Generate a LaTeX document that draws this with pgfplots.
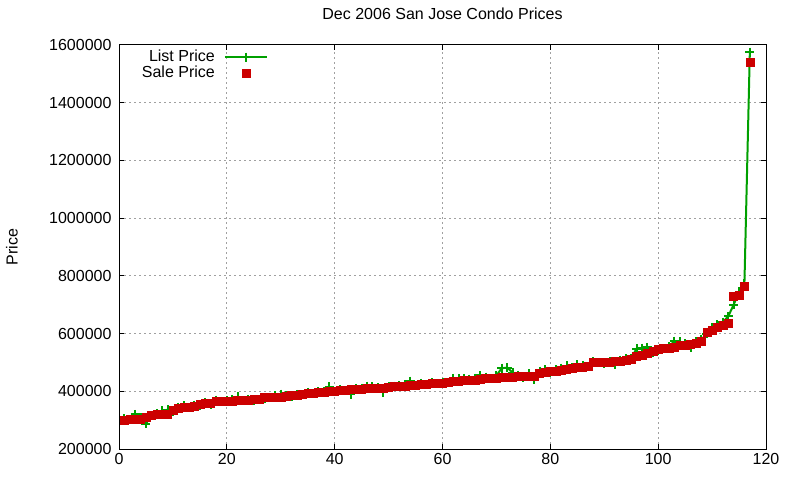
\documentclass[border=0pt]{standalone}
\usepackage{fontspec}
\setmainfont{Liberation Sans}
\usepackage{pgfplots}
\usepackage{pgfplotstable}
\pgfplotsset{compat=1.18}
\definecolor{lgreen}{RGB}{0,160,0}
\definecolor{sred}{RGB}{204,0,0}
\definecolor{gridgray}{RGB}{160,160,160}

\pgfplotsset{
  list legend/.style={legend image code/.code={\path[draw=none,fill=none] (0pt,-4pt) rectangle (42pt,4pt);
    \draw[mark repeat=2,mark phase=2,##1] plot coordinates {(0pt,0pt) (21pt,0pt) (42pt,0pt)};}},
  sale legend/.style={legend image code/.code={\path[draw=none,fill=none] (0pt,-4pt) rectangle (42pt,4pt);
    \draw[##1] plot coordinates {(21pt,0pt)};}},
}

% x  list  sale
\pgfplotstableread{
x list sale
1 305000 300000
2 302000 304000
3 320000 304000
4 308000 305000
5 288000 310000
6 315000 318000
7 322000 320000
8 332000 321000
9 336000 322000
10 330000 335000
11 345000 343000
12 350000 344000
13 343000 345000
14 352000 348000
15 350000 356000
16 362000 358000
17 355000 360000
18 369000 366000
19 365000 366000
20 368000 367000
21 372000 367000
22 381000 368000
23 367000 369000
24 372000 370000
25 368000 371000
26 370000 372000
27 375000 378000
28 378000 380000
29 384000 381000
30 390000 381000
31 386000 383000
32 382000 386000
33 389000 387000
34 388000 390000
35 396000 393000
36 392000 394000
37 399000 396000
38 400000 398000
39 415000 399000
40 398000 401000
41 405000 404000
42 402000 405000
43 390000 406000
44 410000 407000
45 410000 408000
46 418000 409000
47 416000 410000
48 412000 411000
49 396000 412000
50 415000 413000
51 418000 416000
52 420000 418000
53 422000 419000
54 435000 420000
55 420000 421000
56 427000 425000
57 424000 426000
58 430000 427000
59 426000 428000
60 432000 429000
61 430000 432000
62 445000 435000
63 444000 436000
64 445000 437000
65 442000 438000
66 446000 440000
67 455000 441000
68 449000 446000
69 444000 446000
70 455000 447000
71 480000 448000
72 482000 450000
73 465000 450000
74 455000 451000
75 448000 451000
76 460000 452000
77 440000 453000
78 470000 462000
79 474000 466000
80 466000 468000
81 474000 470000
82 480000 472000
83 488000 476000
84 482000 479000
85 492000 483000
86 490000 485000
87 485000 488000
88 502000 500000
89 500000 501000
90 498000 502000
91 503000 502000
92 494000 503000
93 508000 505000
94 512000 508000
95 515000 512000
96 548000 522000
97 550000 526000
98 552000 532000
99 536000 538000
100 542000 545000
101 548000 550000
102 555000 551000
103 574000 554000
104 572000 558000
105 565000 560000
106 552000 563000
107 572000 568000
108 578000 572000
109 600000 605000
110 620000 612000
111 630000 622000
112 640000 630000
113 660000 636000
114 700000 729000
115 745000 734000
116 775000 765000
117 1575000 1540000
}\data

\begin{document}
\begin{tikzpicture}[font=\fontsize{16}{19}\selectfont]
\useasboundingbox (0,0) rectangle (800pt,480pt);
\begin{axis}[
  at={(119pt,31pt)}, anchor=south west,
  scale only axis, width=647pt, height=404pt,
  xmin=0, xmax=120, ymin=200000, ymax=1600000,
  xtick={0,20,...,120},
  ytick={200000,400000,...,1600000},
  scaled y ticks=false,
  /pgf/number format/fixed,
  /pgf/number format/1000 sep={},
  /pgf/number format/assume math mode=true,
  tick pos=both, tick align=inside,
  major tick length=5pt,
  axis line style={line width=1pt},
  every tick/.style={black, line width=1pt},
  grid=major,
  major grid style={gridgray, line width=1pt, dash pattern=on 2pt off 3pt},
  yticklabel style={xshift=-4pt},
  xticklabel style={yshift=-1pt},
  title={Dec 2006 San Jose Condo Prices},
  title style={at={(0.5,1)}, anchor=center, yshift=25pt},
  ylabel={Price},
  ylabel style={at={(axis description cs:-0.1654,0.5)}, anchor=center},
  legend plot pos=right,
  legend cell align=right,
  legend style={at={(axis description cs:0.2303,0.99)}, anchor=north east,
    draw=none, fill=none, inner sep=0pt, row sep=0pt, column sep=9pt,
    nodes={inner sep=0pt, text height=12pt, text depth=4pt}},
]
\addplot[color=lgreen, line width=2pt, mark=+, mark size=4.5pt,
  mark options={line width=2pt}, list legend] table[x=x, y=list] {\data};
\addlegendentry{List Price}
\addplot[only marks, color=sred, mark=square*, mark size=4pt, sale legend]
  table[x=x, y=sale] {\data};
\addlegendentry{Sale Price}
\end{axis}
\end{tikzpicture}
\end{document}
